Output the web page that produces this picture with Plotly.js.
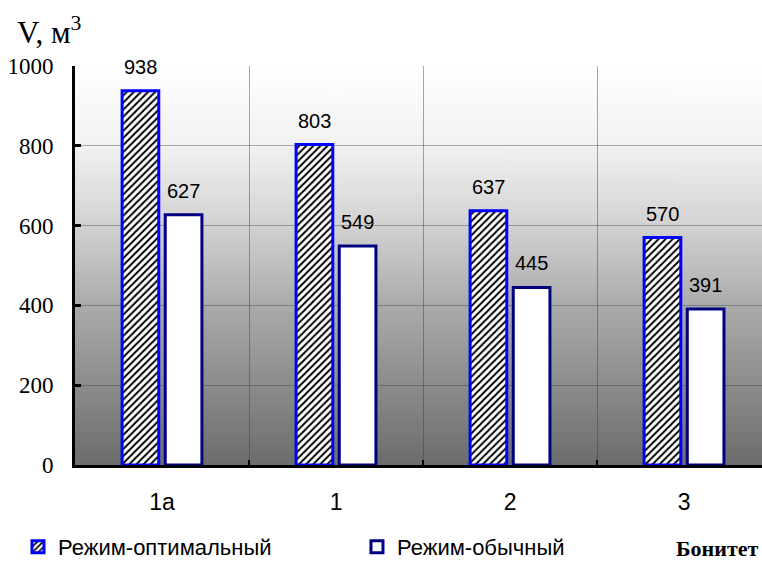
<!DOCTYPE html>
<html>
<head>
<meta charset="utf-8">
<script src="https://cdn.plot.ly/plotly-3.0.1.min.js"></script>
<style>html,body{margin:0;padding:0;background:#fff}#chart{width:762px;height:561px}</style>
</head>
<body>
<div id="chart"></div>
<script>
// ---- data ----
const categories = ["1а", "1", "2", "3"];
const optimalValues = [938, 803, 637, 570];
const usualValues = [627, 549, 445, 391];
const seriesNames = ["Режим-оптимальный", "Режим-обычный"];
const yTicks = [0, 200, 400, 600, 800, 1000];

// ---- gradient background image ----
function gradientURI() {
  const c = document.createElement("canvas");
  c.width = 4; c.height = 400;
  const g = c.getContext("2d");
  const grd = g.createLinearGradient(0, 0, 0, 400);
  grd.addColorStop(0, "#ffffff");
  grd.addColorStop(0.2, "#f2f2f2");
  grd.addColorStop(0.4, "#d2d2d2");
  grd.addColorStop(0.6, "#ababab");
  grd.addColorStop(0.8, "#8c8c8c");
  grd.addColorStop(1, "#6c6c6c");
  g.fillStyle = grd;
  g.fillRect(0, 0, 4, 400);
  return c.toDataURL("image/png");
}

const off = 0.124;

const traces = [
  {
    type: "bar", name: seriesNames[0], x: categories, y: optimalValues,
    marker: {
      color: "#ffffff",
      pattern: {shape: "/", fgcolor: "#000000", bgcolor: "#ffffff", size: 5, solidity: 0.4},
      line: {color: "#0000ff", width: 3}
    },
    hoverinfo: "none"
  },
  {
    type: "bar", name: seriesNames[1], x: categories, y: usualValues,
    marker: {color: "#ffffff", line: {color: "#000080", width: 3}},
    hoverinfo: "none"
  }
];

const labelFont = {family: "Liberation Sans, Arial", size: 20, color: "#000"};
const annotations = [];
optimalValues.forEach((v, i) => annotations.push({
  x: i - off, y: v, xref: "x", yref: "y", text: String(v), showarrow: false,
  yanchor: "bottom", yshift: 11, font: labelFont
}));
usualValues.forEach((v, i) => annotations.push({
  x: i + off, y: v, xref: "x", yref: "y", text: String(v), showarrow: false,
  yanchor: "bottom", yshift: 11, font: labelFont
}));
annotations.push({
  xref: "paper", yref: "paper", x: -0.0873, y: 1.09, xanchor: "left", yanchor: "middle",
  text: "V, м<sup>3</sup>", showarrow: false,
  font: {family: "Liberation Serif, Times New Roman", size: 31, color: "#000"}
});
annotations.push({
  xref: "paper", yref: "paper", x: 0.997, y: -0.21, xanchor: "right", yanchor: "middle",
  text: "<b>Бонитет</b>", showarrow: false,
  font: {family: "Liberation Serif, Times New Roman", size: 22, color: "#000"}
});

const layout = {
  width: 762, height: 561,
  margin: {l: 75, r: 0, t: 66, b: 96},
  paper_bgcolor: "#ffffff",
  plot_bgcolor: "rgba(0,0,0,0)",
  barmode: "group", bargap: 0.504, bargroupgap: 0.15,
  showlegend: true,
  legend: {
    orientation: "h", xref: "container", yref: "container",
    x: 0.0236, y: 1 - 547 / 561, xanchor: "left", yanchor: "middle",
    entrywidth: 294, entrywidthmode: "pixels",
    font: {family: "Liberation Sans, Arial", size: 22, color: "#000"},
    bgcolor: "rgba(0,0,0,0)", itemwidth: 30
  },
  xaxis: {
    type: "category", range: [-0.5, 3.448],
    tickson: "boundaries", ticks: "inside", ticklen: 5, tickwidth: 2, tickcolor: "#000",
    showgrid: true, gridcolor: "rgba(60,60,60,0.45)", gridwidth: 1,
    showline: true, linecolor: "#000", linewidth: 3,
    ticklabelstandoff: 14,
    tickfont: {family: "Liberation Sans, Arial", size: 23, color: "#000"},
    zeroline: false, fixedrange: true
  },
  yaxis: {
    range: [0, 1000], tickmode: "array", tickvals: yTicks,
    ticks: "inside", ticklen: 6, tickwidth: 3, tickcolor: "#000",
    showgrid: true, gridcolor: "rgba(60,60,60,0.4)", gridwidth: 1,
    showline: true, linecolor: "#000", linewidth: 3,
    ticklabelstandoff: 14,
    tickfont: {family: "Liberation Serif, Times New Roman", size: 23, color: "#000"},
    zeroline: false, fixedrange: true
  },
  images: [{
    source: gradientURI(), xref: "paper", yref: "paper", x: 0, y: 1, sizex: 1, sizey: 1,
    sizing: "stretch", layer: "below", xanchor: "left", yanchor: "top"
  }],
  annotations: annotations
};

Plotly.newPlot("chart", traces, layout, {displayModeBar: false, staticPlot: true});
</script>
</body>
</html>
